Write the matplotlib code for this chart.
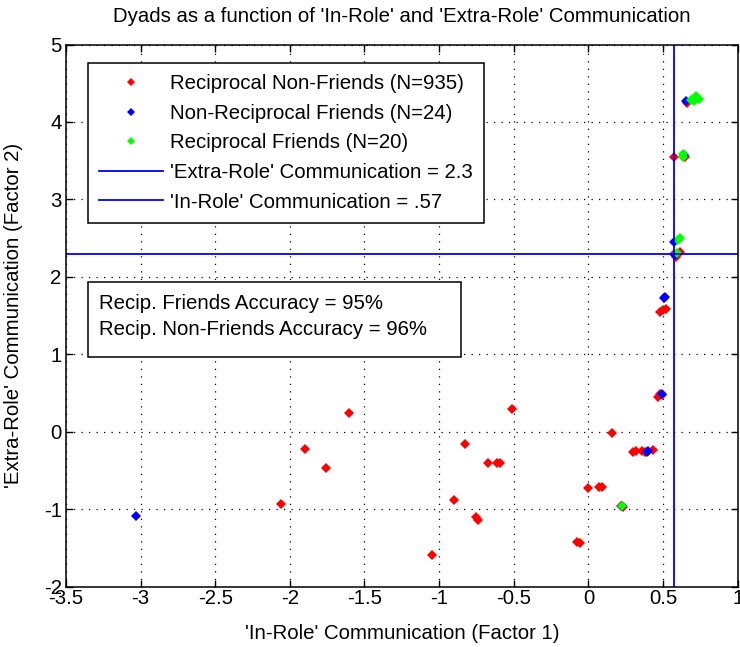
import matplotlib
matplotlib.use("Agg")
import matplotlib.pyplot as plt
from matplotlib.lines import Line2D
from matplotlib.patches import Rectangle

plt.rcParams['font.family'] = ['Liberation Sans', 'DejaVu Sans']

# Reciprocal Non-Friends
red_x = [-2.06, -1.90, -1.755, -1.605, -1.05, -0.90, -0.825, -0.75, -0.74, -0.675, -0.615, -0.59,
         -0.515, -0.075, -0.06, 0.0, 0.07, 0.09, 0.155, 0.22, 0.23, 0.30, 0.32, 0.36, 0.38, 0.43,
         0.465, 0.48, 0.49, 0.48, 0.50, 0.52, 0.57, 0.585, 0.61, 0.57, 0.645, 0.66]
red_y = [-0.94, -0.22, -0.47, 0.245, -1.595, -0.88, -0.16, -1.10, -1.14, -0.41, -0.41, -0.41,
         0.29, -1.43, -1.44, -0.73, -0.72, -0.72, -0.02, -0.96, -0.97, -0.26, -0.25, -0.25, -0.26, -0.24,
         0.45, 0.48, 0.47, 1.55, 1.57, 1.58, 2.30, 2.25, 2.32, 3.55, 3.55, 4.25]
# Non-Reciprocal Friends
blue_x = [-3.03, 0.225, 0.39, 0.40, 0.49, 0.505, 0.515, 0.57, 0.58, 0.64, 0.65]
blue_y = [-1.09, -0.965, -0.26, -0.25, 0.48, 1.72, 1.74, 2.45, 2.28, 3.57, 4.27]
# Reciprocal Friends
green_x = [0.225, 0.59, 0.60, 0.615, 0.63, 0.635, 0.69, 0.70, 0.71, 0.72, 0.74]
green_y = [-0.965, 2.31, 2.47, 2.50, 3.58, 3.55, 4.28, 4.30, 4.27, 4.33, 4.30]

extra_role_cut = 2.3
in_role_cut = 0.57

x_ticks = [-3.5, -3, -2.5, -2, -1.5, -1, -0.5, 0, 0.5, 1]
x_tick_labels = ['-3.5', '-3', '-2.5', '-2', '-1.5', '-1', '-0.5', '0', '0.5', '1']
y_ticks = [-2, -1, 0, 1, 2, 3, 4, 5]
y_tick_labels = ['-2', '-1', '0', '1', '2', '3', '4', '5']

FS = 14.7

fig = plt.figure(figsize=(7.4, 6.47), dpi=100)
ax = fig.add_axes([0.089, 0.0935, 0.908, 0.8377])

ms = 5.2
ax.plot(red_x, red_y, 'D', color=(1, 0, 0), ms=ms, mew=0, linestyle='none')
ax.plot(blue_x, blue_y, 'D', color=(0, 0, 1), ms=ms, mew=0, linestyle='none')
ax.plot(green_x, green_y, 'D', color=(0, 1, 0), ms=ms, mew=0, linestyle='none')
ax.axhline(extra_role_cut, color=(0, 0, 1), lw=1.3)
ax.axvline(in_role_cut, color=(0, 0, 1), lw=1.3)

ax.set_xlim(-3.5, 1)
ax.set_ylim(-2, 5)
ax.set_xticks(x_ticks)
ax.set_xticklabels(x_tick_labels)
ax.set_yticks(y_ticks)
ax.set_yticklabels(y_tick_labels)
ax.tick_params(direction='in', length=5, width=1, labelsize=FS, top=True, right=True, pad=2)
ax.tick_params(axis='y', pad=3)
ax.grid(True, color='black', linestyle=(0, (1, 5)), linewidth=0.9)
for s in ax.spines.values():
    s.set_linewidth(1.1)

ax.set_title("Dyads as a function of 'In-Role' and 'Extra-Role' Communication", fontsize=FS, pad=16)
ax.set_xlabel("'In-Role' Communication (Factor 1)", fontsize=FS, labelpad=11)
ax.set_ylabel("'Extra-Role' Communication (Factor 2)", fontsize=FS, labelpad=15)

handles = [
    Line2D([], [], marker='D', color=(1, 0, 0), ms=4.5, mew=0, linestyle='none'),
    Line2D([], [], marker='D', color=(0, 0, 1), ms=4.5, mew=0, linestyle='none'),
    Line2D([], [], marker='D', color=(0, 1, 0), ms=4.5, mew=0, linestyle='none'),
    Line2D([], [], color=(0, 0, 1), lw=1.3),
    Line2D([], [], color=(0, 0, 1), lw=1.3),
]
labels = ['Reciprocal Non-Friends (N=935)', 'Non-Reciprocal Friends (N=24)',
          'Reciprocal Friends (N=20)', "'Extra-Role' Communication = 2.3",
          "'In-Role' Communication = .57"]
leg = ax.legend(handles, labels, loc='upper left', bbox_to_anchor=(0.033, 0.966),
                borderaxespad=0, fontsize=FS, fancybox=False, edgecolor='black',
                framealpha=1, handlelength=3.1, handletextpad=0.35, labelspacing=0.52,
                borderpad=0.55)
leg.get_frame().set_linewidth(1.1)

ax.add_patch(Rectangle((0.0323, 0.424), 0.5565, 0.1384, transform=ax.transAxes,
                       facecolor='white', edgecolor='black', lw=1.1, zorder=5))
ax.text(0.049, 0.5225, "Recip. Friends Accuracy = 95%", transform=ax.transAxes,
        fontsize=FS, va='center', ha='left', zorder=6)
ax.text(0.049, 0.4751, "Recip. Non-Friends Accuracy = 96%", transform=ax.transAxes,
        fontsize=FS, va='center', ha='left', zorder=6)

fig.savefig('out.png', dpi=100)
